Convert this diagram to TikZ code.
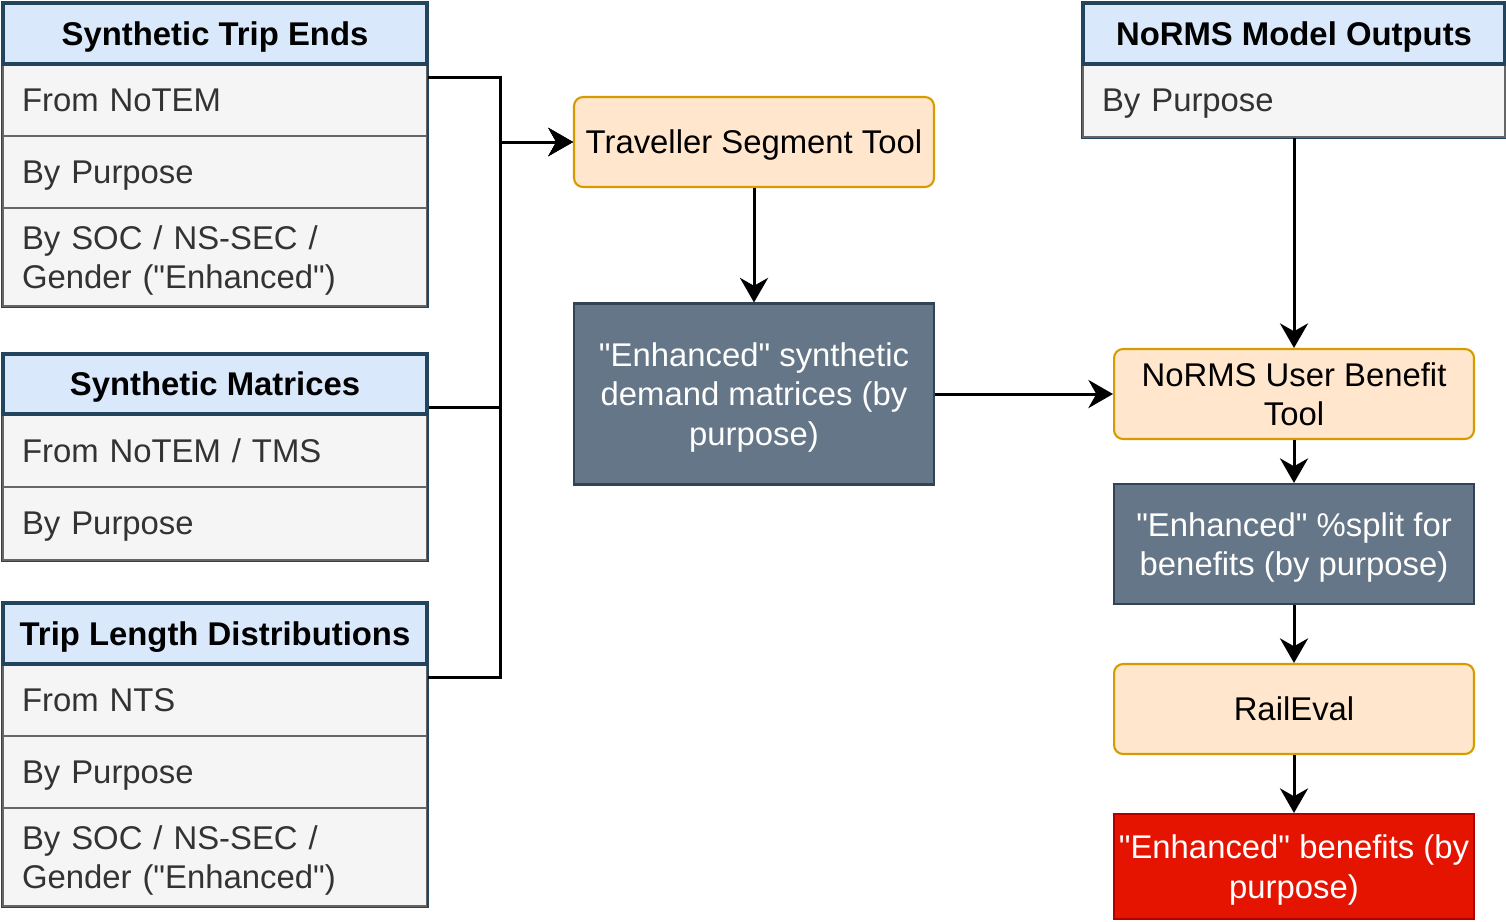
\documentclass[tikz,border=0pt]{standalone}
\usepackage{fontspec}
\setmainfont{Liberation Sans}[Ligatures=TeXOff]
\usetikzlibrary{arrows.meta}

\definecolor{hdrfill}{HTML}{DAE8FC}
\definecolor{hdrline}{HTML}{23445D}
\definecolor{rowfill}{HTML}{F5F5F5}
\definecolor{rowline}{HTML}{666666}
\definecolor{rowtext}{HTML}{333333}
\definecolor{toolfill}{HTML}{FFE6CC}
\definecolor{toolline}{HTML}{D79B00}
\definecolor{datafill}{HTML}{647687}
\definecolor{dataline}{HTML}{314354}
\definecolor{resfill}{HTML}{E51400}
\definecolor{resline}{HTML}{B20000}

\begin{document}
\begin{tikzpicture}[x=0.02cm, y=-0.02cm]

\tikzset{head/.style = {shape=rectangle, draw=hdrline, fill=hdrfill, line width=2pt, minimum width=8.48cm, minimum height=1.22cm, inner sep=0pt, text height=13.5pt, text depth=0pt, font=\fontsize{18.7}{22.5}\selectfont\bfseries}}
\tikzset{row/.style = {shape=rectangle, draw=rowline, fill=rowfill, text=rowtext, line width=1.2pt, text width=7.72cm, inner xsep=0.38cm, inner ysep=0pt, text depth=0pt, align=left, font=\fontsize{18.7}{22.5}\selectfont}}
\tikzset{tworow/.style = {row, minimum height=1.96cm, text depth=22.5pt}}
\tikzset{frame/.style = {draw=hdrline, line width=0.6pt}}
\tikzset{tool/.style = {shape=rectangle, rounded corners=0.18cm, draw=toolline, fill=toolfill, line width=1.2pt, minimum width=7.2cm, minimum height=1.8cm, inner xsep=0.05cm, text depth=0pt, align=center, font=\fontsize{18.7}{22.5}\selectfont}}
\tikzset{data/.style = {shape=rectangle, draw=dataline, fill=datafill, text=white, line width=1.2pt, minimum width=7.2cm, inner xsep=0.05cm, text depth=0pt, align=center, font=\fontsize{18.7}{22.5}\selectfont}}
\tikzset{result/.style = {data, draw=resline, fill=resfill}}
\tikzset{flow/.style = {->, > = {Stealth[length=14pt, width=16pt, inset=4.5pt]}, line width=1.7pt}}

\useasboundingbox (0,0) rectangle (1506,921);

%synthetic trip ends
\node[row, minimum height=1.44cm] (ste1) at (215,100) {From NoTEM};
\node[row, minimum height=1.44cm] (ste2) at (215,172) {By Purpose};
\node[tworow] (ste3) at (215,257) {By SOC / NS-SEC /\\Gender ("Enhanced")};
\node[head] (ste) at (215,33.5) {Synthetic Trip Ends};
\draw[frame] (ste.north west) rectangle (ste3.south east);

%synthetic matrices
\node[row, minimum height=1.46cm] (sm1) at (215,450.5) {From NoTEM / TMS};
\node[row, minimum height=1.46cm] (sm2) at (215,523.5) {By Purpose};
\node[head, minimum height=1.2cm] (sm) at (215,384) {Synthetic Matrices};
\draw[frame] (sm.north west) rectangle (sm2.south east);

%trip length distributions
\node[row, minimum height=1.44cm] (tld1) at (215,700) {From NTS};
\node[row, minimum height=1.44cm] (tld2) at (215,772) {By Purpose};
\node[tworow] (tld3) at (215,857) {By SOC / NS-SEC /\\Gender ("Enhanced")};
\node[head] (tld) at (215,633.5) {Trip Length Distributions};
\draw[frame] (tld.north west) rectangle (tld3.south east);

%norms model outputs
\node[row, text width=7.68cm, minimum height=1.46cm] (nmo1) at (1294,100.5) {By Purpose};
\node[head, minimum width=8.44cm] (nmo) at (1294,33.5) {NoRMS Model Outputs};
\draw[frame] (nmo.north west) rectangle (nmo1.south east);

%tools and outputs
\node[tool] (tst) at (754,142) {Traveller Segment Tool};
\node[data, minimum height=3.62cm] (esd) at (754,394) {"Enhanced" synthetic\\demand matrices (by\\purpose)};
\node[tool] (ubt) at (1294,394) {NoRMS User Benefit\\Tool};
\node[data, minimum height=2.4cm] (split) at (1294,544) {"Enhanced" \%split for\\benefits (by purpose)};
\node[tool] (rail) at (1294,709) {RailEval};
\node[result, minimum height=2.1cm] (ben) at (1294,866.5) {"Enhanced" benefits (by\\purpose)};

%edges
\draw[flow] ([yshift=-0.3cm]ste1.north east) -- ++(72,0) |- (tst);
\draw[flow] ([yshift=0.16cm]sm.south east) -- ++(72,0) |- (tst);
\draw[flow] ([yshift=-0.3cm]tld1.north east) -- ++(72,0) |- (tst);
\draw[flow] (tst) -- (esd);
\draw[flow] (esd) -- (ubt);
\draw[flow] (nmo1) -- (ubt);
\draw[flow] (ubt) -- (split);
\draw[flow] (split) -- (rail);
\draw[flow] (rail) -- (ben);

\end{tikzpicture}
\end{document}
